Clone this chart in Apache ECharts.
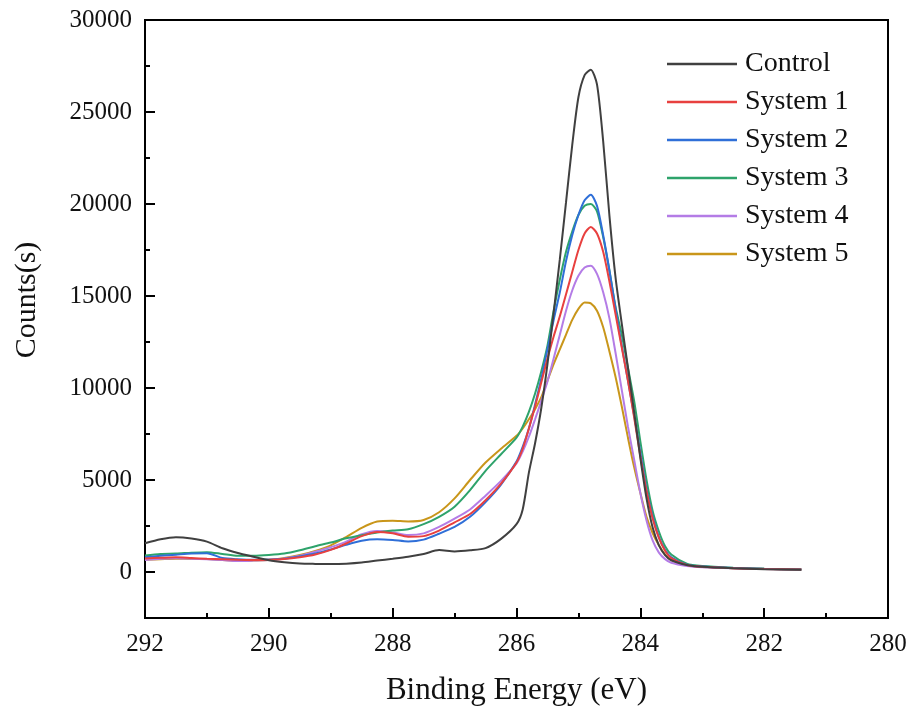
<!DOCTYPE html>
<html>
<head>
<meta charset="utf-8">
<script src="https://cdn.jsdelivr.net/npm/echarts@6/dist/echarts.min.js"></script>
<style>
html,body{margin:0;padding:0;background:#fff;}
#chart{width:911px;height:711px;}
</style>
</head>
<body>
<div id="chart"></div>
<script>
const energies = [292.00,291.75,291.50,291.25,291.00,290.75,290.50,290.25,290.00,289.75,289.50,289.25,289.00,288.75,288.50,288.25,288.00,287.75,287.50,287.25,287.00,286.75,286.50,286.25,286.00,
285.9,285.8,285.7,285.6,285.5,285.4,285.3,285.2,285.1,285.0,284.9,284.8,284.7,284.6,284.5,284.4,284.3,284.2,284.1,284.0,283.9,283.8,283.7,283.6,283.5,
283.25,283.0,282.5,282.0,281.4];

const control = [1560,1780,1890,1820,1650,1290,1030,830,640,530,460,440,430,450,510,620,720,830,980,1190,1120,1180,1300,1800,2600,
3400,5400,7000,8900,11300,14100,17000,20100,23200,25800,27000,27300,26500,23400,19400,16000,13500,11100,8700,6200,4000,2400,1450,920,640,
380,280,200,150,120];

const system1 = [740,770,800,760,720,690,660,650,660,700,800,950,1200,1550,1950,2180,2100,1920,1950,2250,2700,3150,3900,4800,5950,
6700,7800,9000,10300,11600,12800,13900,15100,16300,17500,18400,18750,18400,17400,15800,14000,12200,10400,8400,6300,4400,2900,1850,1150,750,
380,280,200,160,130];

const system2 = [800,880,940,1000,1020,760,690,660,680,720,850,1000,1220,1480,1700,1780,1740,1660,1760,2080,2450,3000,3800,4750,6000,
6800,7800,9100,10500,12100,13700,15200,16900,18300,19400,20200,20500,19900,18300,16400,14300,12300,10400,8500,6500,4500,3000,1900,1200,800,
400,300,220,170,130];

const system3 = [900,980,1000,1050,1080,980,880,880,920,1000,1180,1400,1600,1830,2000,2150,2250,2320,2600,3000,3550,4450,5500,6400,7300,
7900,8700,9700,10900,12300,14200,15900,17400,18500,19400,19900,20000,19600,18200,16400,14400,12900,11100,9300,7100,5000,3300,2200,1400,950,
450,320,230,180,140];

const system4 = [650,720,750,720,690,650,600,620,650,740,880,1100,1350,1650,2050,2230,2150,2010,2100,2450,2900,3400,4150,4950,5900,
6550,7350,8300,9300,10350,11600,12900,14200,15300,16100,16550,16650,16200,15200,13800,11900,9900,7900,6100,4300,2800,1700,1050,700,500,
330,260,200,160,130];

const system5 = [660,690,720,710,700,650,600,620,650,760,920,1150,1450,1900,2400,2740,2790,2750,2830,3250,4000,5000,5950,6700,7400,
7800,8300,8850,9500,10400,11300,12100,12900,13700,14300,14650,14600,14200,13300,12000,10600,9000,7300,5700,4300,3000,2100,1450,950,650,
380,270,210,170,140];

const seriesNames = ['Control','System 1','System 2','System 3','System 4','System 5'];
const seriesValues = [control, system1, system2, system3, system4, system5];
const seriesColors = ['#404040','#e8403f','#2f6fd8','#2ea36b','#b47ce6','#c9961a'];

const yMajorTicks = [0,5000,10000,15000,20000,25000,30000];

const FONT = '"Liberation Serif","Times New Roman",serif';

const chart = echarts.init(document.getElementById('chart'));

const series = seriesNames.map((name, k) => ({
  name: name,
  type: 'line',
  symbol: 'none',
  smooth: 0.25,
  xAxisIndex: 0,
  yAxisIndex: 0,
  data: energies.map((e, i) => [e, seriesValues[k][i]]),
  lineStyle: { color: seriesColors[k], width: 2 },
  itemStyle: { color: seriesColors[k] },
  z: 10 - k
}));

chart.setOption({
  animation: false,
  backgroundColor: '#fff',
  grid: {
    left: 145, right: 23, top: 20, bottom: 91,
    show: true, borderColor: '#000', borderWidth: 2, backgroundColor: 'transparent'
  },
  legend: {
    left: 662, top: 45, orient: 'vertical',
    icon: 'rect',
    itemWidth: 70, itemHeight: 2.5, itemGap: 10,
    data: seriesNames,
    textStyle: { fontFamily: FONT, fontSize: 28, color: '#111', lineHeight: 28, padding: [0,0,0,3] }
  },
  xAxis: [{
    type: 'value', inverse: true, min: 280, max: 292, interval: 2,
    position: 'bottom',
    name: 'Binding Energy (eV)', nameLocation: 'middle', nameGap: 57,
    nameTextStyle: { fontFamily: FONT, fontSize: 31, color: '#111' },
    axisLine: { show: true, onZero: false, lineStyle: { color: '#000', width: 2 } },
    axisTick: { show: true, inside: true, length: 10, lineStyle: { color: '#000', width: 2 } },
    minorTick: { show: true, splitNumber: 2, length: 5, lineStyle: { color: '#000', width: 2 } },
    axisLabel: { fontFamily: FONT, fontSize: 25, color: '#111', margin: 14 },
    splitLine: { show: false }
  }],
  yAxis: [{
    type: 'value', min: -2500, max: 30000, interval: 2500, position: 'left',
    name: 'Counts(s)', nameLocation: 'middle', nameGap: 103,
    nameTextStyle: { fontFamily: FONT, fontSize: 30, color: '#111', padding: [0,0,0,38] },
    axisLine: { show: true, onZero: false, lineStyle: { color: '#000', width: 2 } },
    axisTick: { show: true, inside: true, length: 10, customValues: yMajorTicks, lineStyle: { color: '#000', width: 2 } },
    axisLabel: {
      fontFamily: FONT, fontSize: 25, color: '#111', margin: 13,
      customValues: yMajorTicks,
      formatter: v => (yMajorTicks.indexOf(v) >= 0 ? String(v) : '')
    },
    splitLine: { show: false }
  }, {
    type: 'value', min: -2500, max: 30000, interval: 2500, position: 'left',
    axisLine: { show: false },
    axisTick: { show: true, inside: true, length: 5, lineStyle: { color: '#000', width: 2 } },
    axisLabel: { show: false },
    splitLine: { show: false }
  }],
  series: series
});
</script>
</body>
</html>
